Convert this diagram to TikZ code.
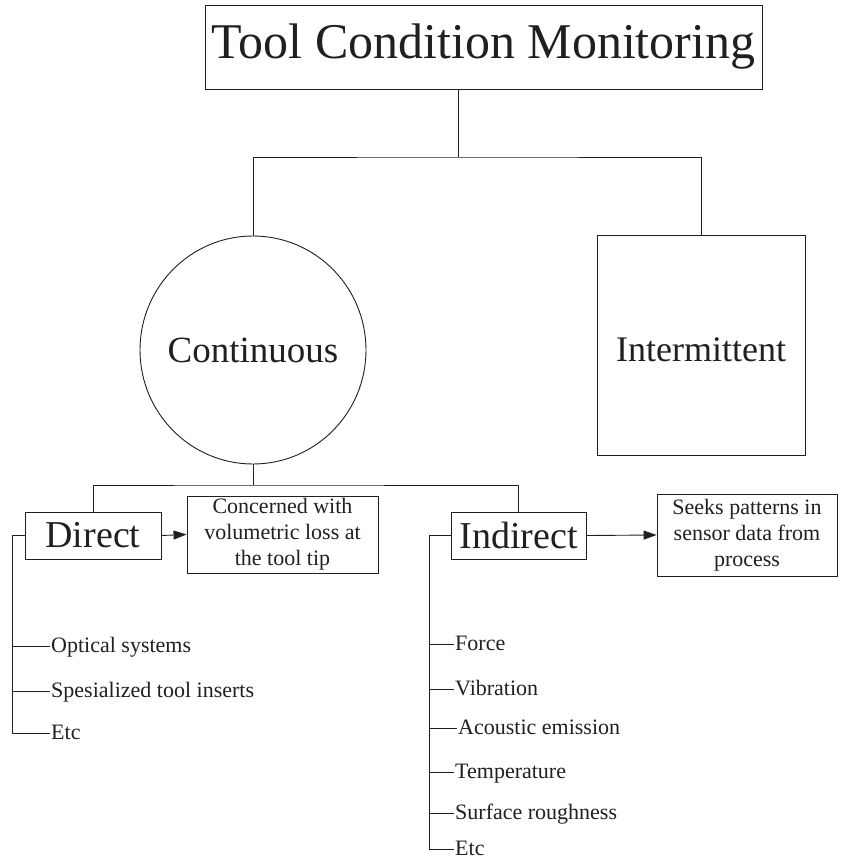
\documentclass[tikz,border=0pt]{standalone}
\usepackage{fontspec}
\setmainfont{Liberation Serif}
\usetikzlibrary{arrows.meta,shapes.geometric,calc}
\definecolor{ink}{RGB}{32,32,32}
\newcommand{\fsz}[1]{\fontsize{#1}{#1}\selectfont}
\tikzset{
  link/.style={draw=ink,line width=0.9pt},
  boxnode/.style={draw=ink,line width=0.9pt,rectangle,text=ink,inner sep=0pt,align=center},
  notebox/.style={boxnode,font=\fsz{22}\linespread{1.18}\selectfont},
  headbox/.style={boxnode,font=\fsz{38}},
  label/.style={text=ink,inner sep=0pt},
  item/.style={anchor=west,text=ink,inner xsep=1pt,inner ysep=0pt,font=\fsz{22},
    text height=16.5pt,text depth=4.5pt},
  pointer/.style={link,-{Triangle[length=13pt,width=9pt]}}
}
\begin{document}
\begin{tikzpicture}[x=1pt,y=-1pt]
\useasboundingbox[fill=white] (0,0) rectangle (843,861);

% top level
\node[boxnode,font=\fsz{50},minimum width=557,minimum height=84] (title) at (483.5,47) {Tool Condition Monitoring};
\node[draw=ink,line width=0.9pt,ellipse,minimum width=226,minimum height=228,inner sep=0pt] (cont) at (253,350) {};
\node[label,font=\fsz{37}] (contlabel) at (cont.center) {Continuous};
\node[boxnode,minimum width=208,minimum height=220] (inter) at (701,345) {};
\node[label,font=\fsz{36}] (interlabel) at (701,350) {Intermittent};

\coordinate (bus1) at (458,157);
\draw[link] (title.south -| bus1) -- (bus1);
\draw[link] (cont.north) |- (bus1) -| (inter.north);

% second level
\node[headbox,minimum width=136,minimum height=47] (direct) at (93,535.5) {Direct};
\node[headbox,minimum width=135,minimum height=47] (indirect) at (518.5,535.5) {Indirect};
\node[notebox,minimum width=191,minimum height=77] (concern) at (282.5,534.5) {Concerned with\\volumetric loss at\\the tool tip};
\node[notebox,minimum width=180,minimum height=82] (seeks) at (747,535) {Seeks patterns in\\sensor data from\\process};

\coordinate (bus2) at (253,485);
\draw[link] (cont.south) -- (bus2);
\draw[link] (direct.north) |- (bus2) -| (indirect.north);
\draw[pointer] (direct.east) -- (concern.west);
\draw[pointer] (indirect.east) -- (seeks.west);

% direct methods
\coordinate (dspine) at (12,535.5);
\node[item] (d1) at (50,646) {Optical systems};
\node[item] (d2) at (50,691) {Spesialized tool inserts};
\node[item] (d3) at (50,733) {Etc};
\draw[link] (direct.west) -- (dspine) |- (d3.west);
\draw[link] (d1.west -| dspine) -- (d1.west);
\draw[link] (d2.west -| dspine) -- (d2.west);

% indirect methods
\coordinate (ispine) at (429,535.5);
\node[item] (i1) at (454,644) {Force};
\node[item] (i2) at (454,689) {Vibration};
\node[item] (i3) at (457,728) {Acoustic emission};
\node[item] (i4) at (454,772) {Temperature};
\node[item] (i5) at (454,813) {Surface roughness};
\node[item] (i6) at (454,849) {Etc};
\draw[link] (indirect.west) -- (ispine) |- (i6.west);
\foreach \k in {i1,i2,i3,i4,i5}
  \draw[link] (\k.west -| ispine) -- (\k.west);
\end{tikzpicture}
\end{document}
